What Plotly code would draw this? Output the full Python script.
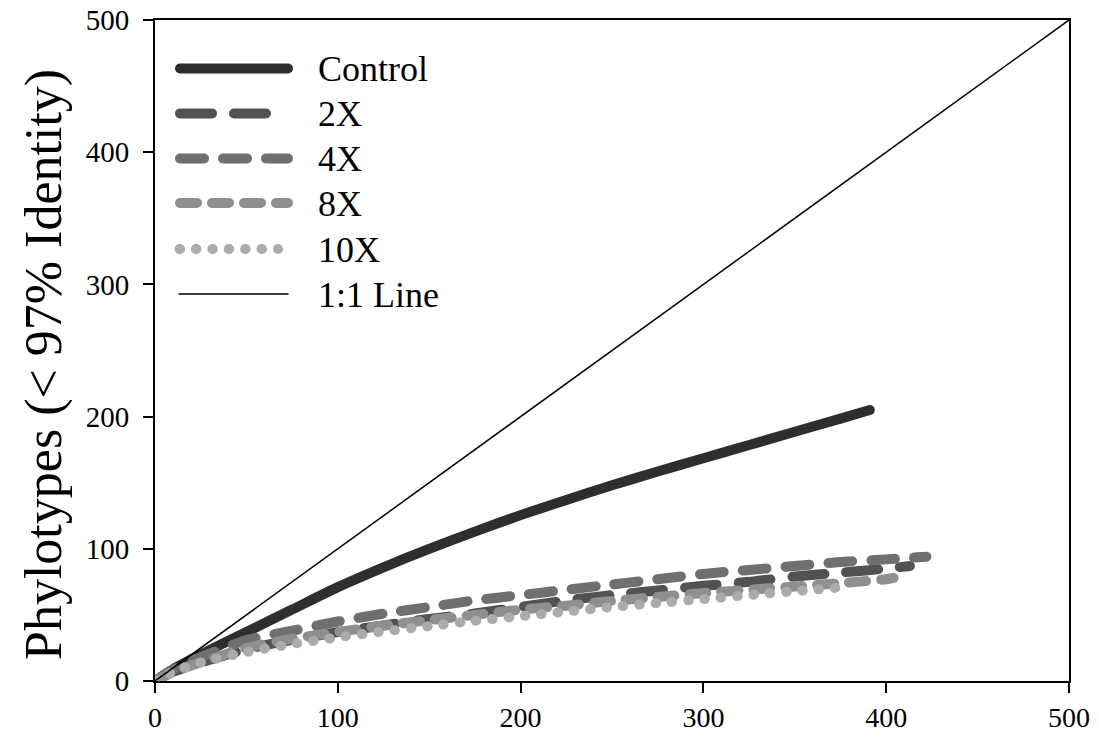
import plotly.graph_objects as go

# Rarefaction curves: sequences sampled vs. phylotypes observed
x_control = [0, 10, 25, 50, 75, 100, 125, 150, 175, 200, 225, 250, 275, 300, 325, 350, 375, 391]
y_control = [0, 9, 20, 37, 54, 71, 86, 100, 113, 125.5, 137, 148, 158.5, 168.5, 178.5, 188.5, 198.5, 205]

x_2x = [0, 10, 25, 50, 75, 100, 125, 150, 175, 200, 225, 250, 275, 300, 325, 350, 375, 400, 413]
y_2x = [0, 7, 14, 24, 31, 37, 42, 47, 51, 56, 61, 65, 68.5, 72, 75, 79, 82, 85, 87]

x_4x = [0, 10, 25, 50, 75, 100, 125, 150, 175, 200, 225, 250, 275, 300, 325, 350, 375, 400, 422]
y_4x = [0, 9, 18, 31, 38, 45, 51, 56, 61, 65, 69, 73, 77, 81, 84, 87, 90, 92, 94]

x_8x = [0, 10, 25, 50, 75, 100, 125, 150, 175, 200, 225, 250, 275, 300, 325, 350, 375, 400, 404]
y_8x = [0, 7, 14, 25, 32, 37, 42, 46, 50, 54, 57, 60.5, 63.5, 66.5, 69, 71.5, 74, 77, 78]

x_10x = [0, 10, 25, 50, 75, 100, 125, 150, 175, 200, 225, 250, 275, 300, 325, 350, 377]
y_10x = [0, 7, 14, 22, 28, 33, 37.5, 41.5, 45.5, 49, 52.5, 56, 59, 62, 65, 68, 71]

x_one_to_one = [0, 500]
y_one_to_one = [0, 500]

tick_values = [0, 100, 200, 300, 400, 500]

FONT = "Liberation Serif"

# name, x, y, colour, width, dash
series = [
    ("Control", x_control, y_control, "#2e2e2e", 10, "solid"),
    ("2X", x_2x, y_2x, "#525252", 10, "32px,22px"),
    ("4X", x_4x, y_4x, "#6f6f6f", 10, "24px,19px"),
    ("8X", x_8x, y_8x, "#8f8f8f", 10, "17px,15px"),
    ("10X", x_10x, y_10x, "#ababab", 10, "0.5px,15.9px"),
    ("1:1 Line", x_one_to_one, y_one_to_one, "#000000", 1.5, "solid"),
]

fig = go.Figure()
for name, xs, ys, color, width, dash in series:
    fig.add_trace(go.Scatter(
        x=xs, y=ys, mode="lines", name=name,
        line=dict(color=color, width=width, dash=dash, shape="spline", smoothing=0.6),
        showlegend=False, hoverinfo="skip",
    ))

# Hand-drawn key in the upper-left corner (paper coordinates)
W, H = 1099, 737
L, R, T, B = 155, 30, 20, 56
pw, ph = W - L - R, H - T - B


def px_x(p):
    return (p - L) / pw


def px_y(p):
    return (H - B - p) / ph


key_rows = [
    # label, y(px), x0, x1, colour, width, dash
    ("Control", 68.5, 180, 288, "#2e2e2e", 10, "solid"),
    ("2X", 113.5, 180, 267, "#525252", 10, "32px,22px"),
    ("4X", 158.5, 180, 288, "#6f6f6f", 10, "24px,19px"),
    ("8X", 203, 180, 288, "#8f8f8f", 10, "17px,15px"),
    ("10X", 249, 179.5, 278, "#ababab", 10, "0.5px,15.9px"),
    ("1:1 Line", 294, 179, 288, "#000000", 1.5, "solid"),
]
for label, yy, x0, x1, color, width, dash in key_rows:
    fig.add_shape(type="line", xref="paper", yref="paper",
                  x0=px_x(x0), x1=px_x(x1), y0=px_y(yy), y1=px_y(yy),
                  line=dict(color=color, width=width, dash=dash))
    fig.add_annotation(xref="paper", yref="paper", x=px_x(316), y=px_y(yy + 1),
                       xanchor="left", yanchor="middle", showarrow=False,
                       text=label, font=dict(family=FONT, size=36, color="#000000"))

# Y-axis title
fig.add_annotation(xref="paper", yref="paper", x=px_x(44), y=px_y(365),
                   xanchor="center", yanchor="middle", showarrow=False, textangle=-90,
                   text="Phylotypes (< 97% Identity)",
                   font=dict(family=FONT, size=52, color="#000000"))

axis_common = dict(
    range=[0, 500], tickvals=tick_values, ticks="outside", ticklen=10, tickwidth=2,
    tickcolor="#000000", showline=True, linewidth=2, linecolor="#000000", mirror=True,
    showgrid=False, zeroline=False, automargin=False,
)
fig.update_xaxes(**axis_common, ticklabelstandoff=0,
                 tickfont=dict(family=FONT, size=28, color="#000000"))
fig.update_yaxes(**axis_common, ticklabelstandoff=8,
                 tickfont=dict(family=FONT, size=29, color="#000000"))

fig.update_layout(
    width=W, height=H,
    margin=dict(l=L, r=R, t=T, b=B, pad=0, autoexpand=False),
    paper_bgcolor="#ffffff", plot_bgcolor="#ffffff",
    font=dict(family=FONT),
)

# Round caps and joins for all curve and key strokes
post = """
var gd = document.getElementById('{plot_id}');
function roundCaps() {
  gd.querySelectorAll('.scatterlayer path.js-line, .shapelayer path').forEach(function (p) {
    p.style.strokeLinecap = 'round';
    p.style.strokeLinejoin = 'round';
  });
}
roundCaps();
if (gd.on) { gd.on('plotly_afterplot', roundCaps); }
setTimeout(roundCaps, 50);
"""

fig.write_html("out.html", post_script=post)
